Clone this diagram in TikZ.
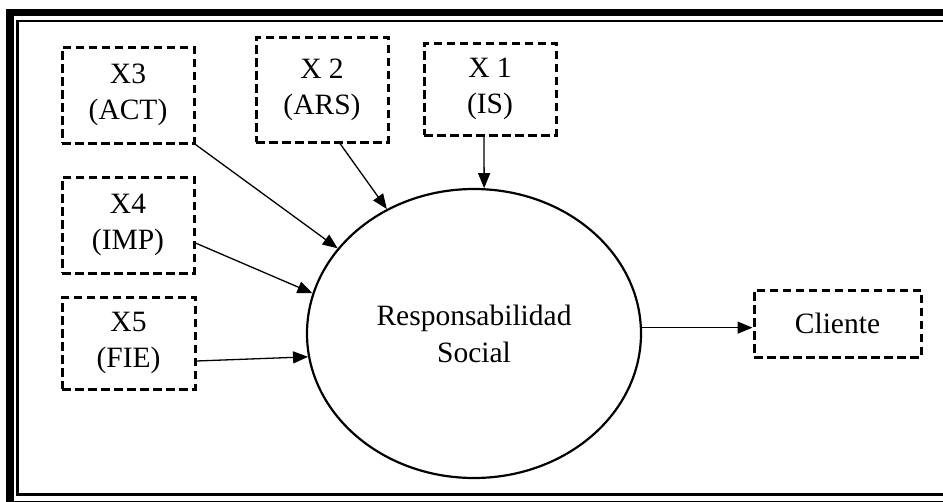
\documentclass[tikz,border=0pt]{standalone}
\usepackage{fontspec}
\setmainfont{Liberation Serif}
\usetikzlibrary{shapes.geometric,arrows.meta}
\begin{document}
\begin{tikzpicture}[x=1pt,y=-1pt,
  vbox/.style={draw,line width=3pt,dash pattern=on 8.5pt off 4.5pt,rectangle,
    align=center,inner sep=0pt,font=\fontsize{29.5}{36}\selectfont},
  conn/.style={line width=1.3pt,-{Triangle[length=15pt,width=12pt]}},
  txt/.style={font=\fontsize{29.5}{37}\selectfont,align=center}]
\useasboundingbox (0,0) rectangle (943,501);
\clip (0,0) rectangle (943,501);
% frame
\draw[line width=7.5pt] (10,12.5) rectangle (960,505);
\draw[line width=2.5pt] (17.5,21) rectangle (950,494.5);
% boxes
\node[vbox,minimum width=132pt,minimum height=96pt] (x3) at (128,95) {X3\\(ACT)};
\node[vbox,minimum width=132pt,minimum height=105pt] (x2) at (322,89.5) {X 2\\(ARS)};
\node[vbox,minimum width=132pt,minimum height=92pt] (x1) at (490,89) {X 1\\(IS)};
\node[vbox,minimum width=132pt,minimum height=96pt] (x4) at (128,225) {X4\\(IMP)};
\node[vbox,minimum width=133pt,minimum height=92pt] (x5) at (128.5,343) {X5\\(FIE)};
\node[vbox,minimum width=167pt,minimum height=67pt] (cl) at (837.5,323.5) {Cliente};
% ellipse
\node[ellipse,draw,line width=2.2pt,minimum width=334pt,minimum height=289pt,inner sep=0pt,txt] (rs) at (474,333.5) {Responsabilidad\\Social};
% connectors
\draw[conn] ([xshift=-6pt]x1.south) -- (rs.86.5);
\draw[conn] ([xshift=18pt]x2.south) -- (rs.125.9);
\draw[conn] (x3.south east) -- (rs.148);
\draw[conn] ([yshift=-18pt]x4.east) -- (rs.166.9);
\draw[conn] ([yshift=-18pt]x5.east) -- (rs.188.5);
\draw[conn] (rs.2.6) -- (rs.2.6 -| cl.west);
\end{tikzpicture}
\end{document}
